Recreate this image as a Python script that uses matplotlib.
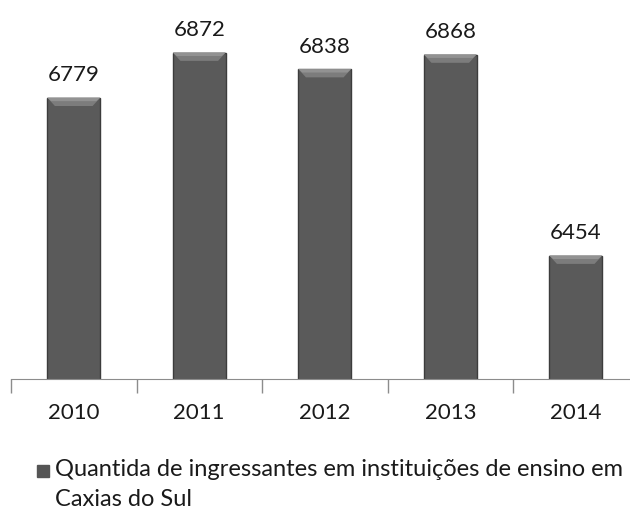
import numpy as np
import matplotlib.pyplot as plt
from matplotlib.patches import Rectangle, Polygon

plt.rcParams['font.family'] = ['Lato', 'DejaVu Sans']

years = ['2010', '2011', '2012', '2013', '2014']
values = [6779, 6872, 6838, 6868, 6454]
legend_label = 'Quantida de ingressantes em instituições de ensino em\nCaxias do Sul'

W, H = 630, 514
fig = plt.figure(figsize=(W / 100, H / 100), dpi=100)
ax = fig.add_axes([11 / W, (H - 379) / H, 627.5 / W, 340 / H])

x = np.arange(len(years))
bars = ax.bar(x, values, width=0.42, color='#5a5a5a', edgecolor='#3c3c3c',
              linewidth=1.0, zorder=2)

# bevel: lighter trapezoid on top of each bar
for b in bars:
    bx, bw, top = b.get_x(), b.get_width(), b.get_height()
    ax.add_patch(Polygon([(bx, top), (bx + bw, top), (bx + bw - 0.06, top - 17),
                          (bx + 0.06, top - 17)], closed=True,
                         color='#7c7c7c', lw=0, zorder=3))
    ax.add_patch(Polygon([(bx, top), (bx + bw, top), (bx + bw - 0.03, top - 7),
                          (bx + 0.03, top - 7)], closed=True,
                         color='#929292', lw=0, zorder=3))

for xi, v in zip(x, values):
    ax.annotate(str(v), (xi, v), xytext=(0, 9), textcoords='offset points',
                ha='center', va='bottom', fontsize=16, color='#1a1a1a')

ax.set_xlim(-0.5, len(years) - 0.5)
ax.set_ylim(6200, 6900)
ax.set_yticks([])
ax.set_xticks(x)
ax.set_xticklabels(years, fontsize=16, color='#1a1a1a')
ax.tick_params(axis='x', which='major', length=0, pad=17)
ax.set_xticks(np.arange(-0.5, len(years), 1.0), minor=True)
ax.tick_params(axis='x', which='minor', length=10, color='#8c8c8c', width=1)
for s in ['top', 'right', 'left']:
    ax.spines[s].set_visible(False)
ax.spines['bottom'].set_color('#8c8c8c')

fig.patches.append(Rectangle((37 / W, 1 - 477 / H), 12 / W, 12 / H,
                             transform=fig.transFigure, color='#555555'))
fig.text(55 / W, 1 - 459 / H, legend_label, fontsize=17, color='#1a1a1a',
         va='top', ha='left', linespacing=1.5)

fig.savefig('out.png', dpi=100)
